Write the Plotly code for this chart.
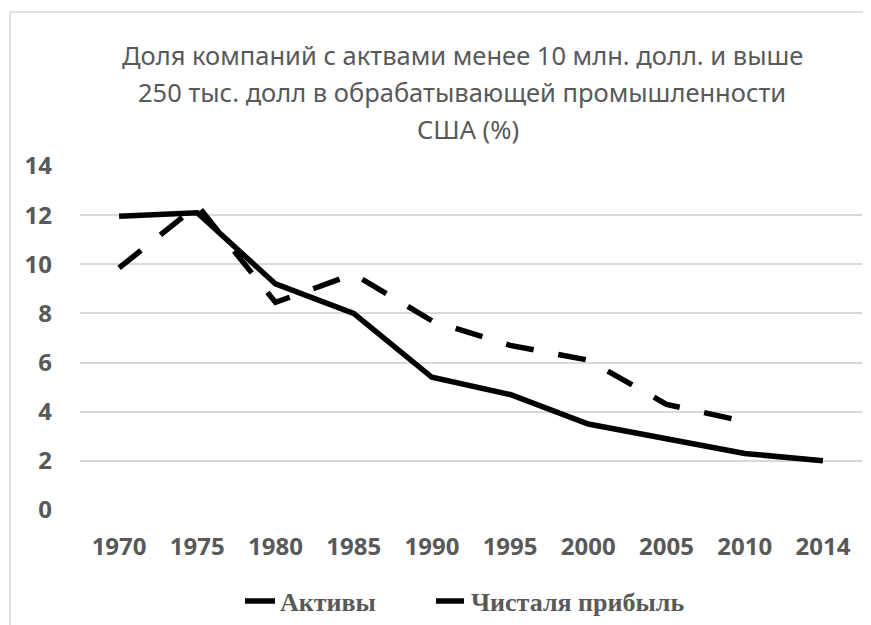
import plotly.graph_objects as go

years = ["1970", "1975", "1980", "1985", "1990", "1995", "2000", "2005", "2010", "2014"]
assets = [11.95, 12.1, 9.2, 8.0, 5.4, 4.7, 3.5, 2.9, 2.3, 2.0]
profit = [9.85, 12.4, 8.45, 9.6, 7.7, 6.7, 6.1, 4.3, 3.6, None]
series_names = ["Активы", "Чисталя прибыль"]
title_lines = ["Доля компаний с актвами менее 10 млн. долл. и выше",
               "250 тыс. долл в обрабатывающей промышленности",
               "США (%)"]
y_ticks = [0, 2, 4, 6, 8, 10, 12, 14]

# page body has an 8px default margin; work in screen pixels and shift
OFF = 8
SW, SH = 871, 625
W, H = SW - OFF, SH - OFF
# plot area in screen pixels
PX0, PX1, PY0, PY1 = 80, 862, 166, 510
L, R, T, B = PX0 - OFF, SW - PX1, PY0 - OFF, SH - PY1
PW = PX1 - PX0
PH = PY1 - PY0


def px_x(p):
    return (p - PX0) / PW


def px_y(p):
    return (PY1 - p) / PH


GRAY = "#595959"

fig = go.Figure()
fig.add_trace(go.Scatter(x=years, y=assets, mode="lines", name=series_names[0],
                         line=dict(color="black", width=5.5), legend="legend"))
fig.add_trace(go.Scatter(x=years, y=profit, mode="lines", name=series_names[1],
                         line=dict(color="black", width=5.5, dash="28px,25px"), legend="legend2"))

for i, (txt, yc, xc) in enumerate(zip(title_lines, [55, 92, 129], [462, 462, 468])):
    fig.add_annotation(text=txt, xref="paper", yref="paper", x=px_x(xc), y=px_y(yc),
                       xanchor="center", yanchor="middle", showarrow=False,
                       font=dict(family="Noto Sans", size=25.5, color=GRAY))

# chart border (top and left edges visible)
fig.add_shape(type="line", xref="paper", yref="paper", x0=px_x(10), x1=px_x(880),
              y0=px_y(12), y1=px_y(12), line=dict(color="#d9d9d9", width=1.5))
fig.add_shape(type="line", xref="paper", yref="paper", x0=px_x(10), x1=px_x(10),
              y0=px_y(12), y1=px_y(640), line=dict(color="#d9d9d9", width=1.5))

legend_font = dict(family="Liberation Serif", size=26, color=GRAY, weight="bold")

fig.update_layout(
    width=W, height=H,
    margin=dict(l=L, r=R, t=T, b=B, autoexpand=False),
    paper_bgcolor="white", plot_bgcolor="white",
    showlegend=True,
    legend=dict(orientation="h", x=px_x(240), y=px_y(601), xanchor="left", yanchor="middle",
                font=legend_font, bgcolor="rgba(0,0,0,0)"),
    legend2=dict(orientation="h", x=px_x(431), y=px_y(601), xanchor="left", yanchor="middle",
                 font=legend_font, bgcolor="rgba(0,0,0,0)"),
    xaxis=dict(type="category", range=[-0.5, 9.5], showgrid=False, zeroline=False, showline=False,
               ticks="", automargin=False,
               tickfont=dict(family="Noto Sans", size=24, color=GRAY, weight="bold"),
               ticklabelstandoff=20),
    yaxis=dict(range=[0, 14], tickvals=y_ticks, showgrid=True, gridcolor="#d9d9d9", gridwidth=1.5,
               zeroline=False, showline=False, ticks="", automargin=False,
               tickfont=dict(family="Noto Sans", size=24, color=GRAY, weight="bold"),
               ticklabelstandoff=27),
)

fig.write_html("out.html")
